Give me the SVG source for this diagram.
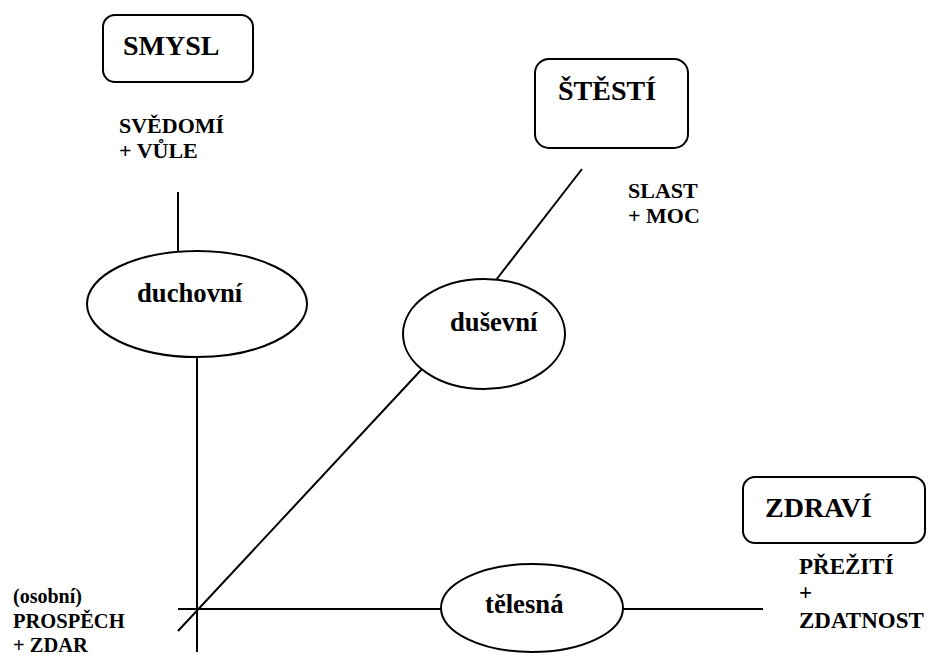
<svg xmlns="http://www.w3.org/2000/svg" width="930" height="657" viewBox="0 0 930 657">
<style>
.box{fill:#fff;stroke:#000;stroke-width:2}
.ell{fill:#fff;stroke:#000;stroke-width:2}
.ln{stroke:#000;stroke-width:2;fill:none}
text{font-family:"Liberation Serif","Times New Roman",serif;font-weight:bold;fill:#000}
.big{font-size:28px}
.mid{font-size:26.67px}
.sm{font-size:22px}
.zd{font-size:23px}
.lbl{font-size:20.5px}
</style>
<rect width="930" height="657" fill="#fff"/>
<g id="connectors">
<line class="ln" x1="178" y1="192" x2="178" y2="252"/>
<line class="ln" x1="197" y1="357" x2="197" y2="652"/>
<line class="ln" x1="582" y1="169" x2="496" y2="280"/>
<line class="ln" x1="178" y1="631" x2="422" y2="369"/>
<line class="ln" x1="178" y1="609" x2="442" y2="609"/>
<line class="ln" x1="623" y1="609" x2="763" y2="609"/>
</g>
<g id="smysl">
<rect class="box" x="103" y="15" width="150" height="67" rx="12"/>
<text class="big" x="123" y="55">SMYSL</text>
</g>
<g id="svedomi">
<text class="sm" x="119" y="133">SVĚDOMÍ</text>
<text class="sm" x="119" y="158">+ VŮLE</text>
</g>
<g id="stesti">
<rect class="box" x="535" y="59" width="153" height="89" rx="14"/>
<text class="big" x="558" y="100">ŠTĚSTÍ</text>
</g>
<g id="slast">
<text class="sm" x="628" y="198">SLAST</text>
<text class="sm" x="628" y="223">+ MOC</text>
</g>
<g id="duchovni">
<ellipse class="ell" cx="197" cy="304" rx="110" ry="53"/>
<text class="mid" x="137" y="302">duchovní</text>
</g>
<g id="dusevni">
<ellipse class="ell" cx="484" cy="334" rx="81" ry="55"/>
<text class="mid" x="450" y="331">duševní</text>
</g>
<g id="telesna">
<ellipse class="ell" cx="532" cy="608" rx="91" ry="44"/>
<text class="mid" x="485" y="613">tělesná</text>
</g>
<g id="zdravi">
<rect class="box" x="743" y="477" width="182" height="66" rx="12"/>
<text class="big" x="765" y="517">ZDRAVÍ</text>
</g>
<g id="prezititi">
<text class="zd" x="799" y="574">PŘEŽITÍ</text>
<text class="zd" x="799" y="600">+</text>
<text class="zd" x="799" y="628">ZDATNOST</text>
</g>
<g id="prospech">
<text class="lbl" x="13" y="603" style="font-size:20px">(osobní)</text>
<text class="lbl" x="13" y="628">PROSPĚCH</text>
<text class="lbl" x="13" y="652">+ ZDAR</text>
</g>
</svg>
